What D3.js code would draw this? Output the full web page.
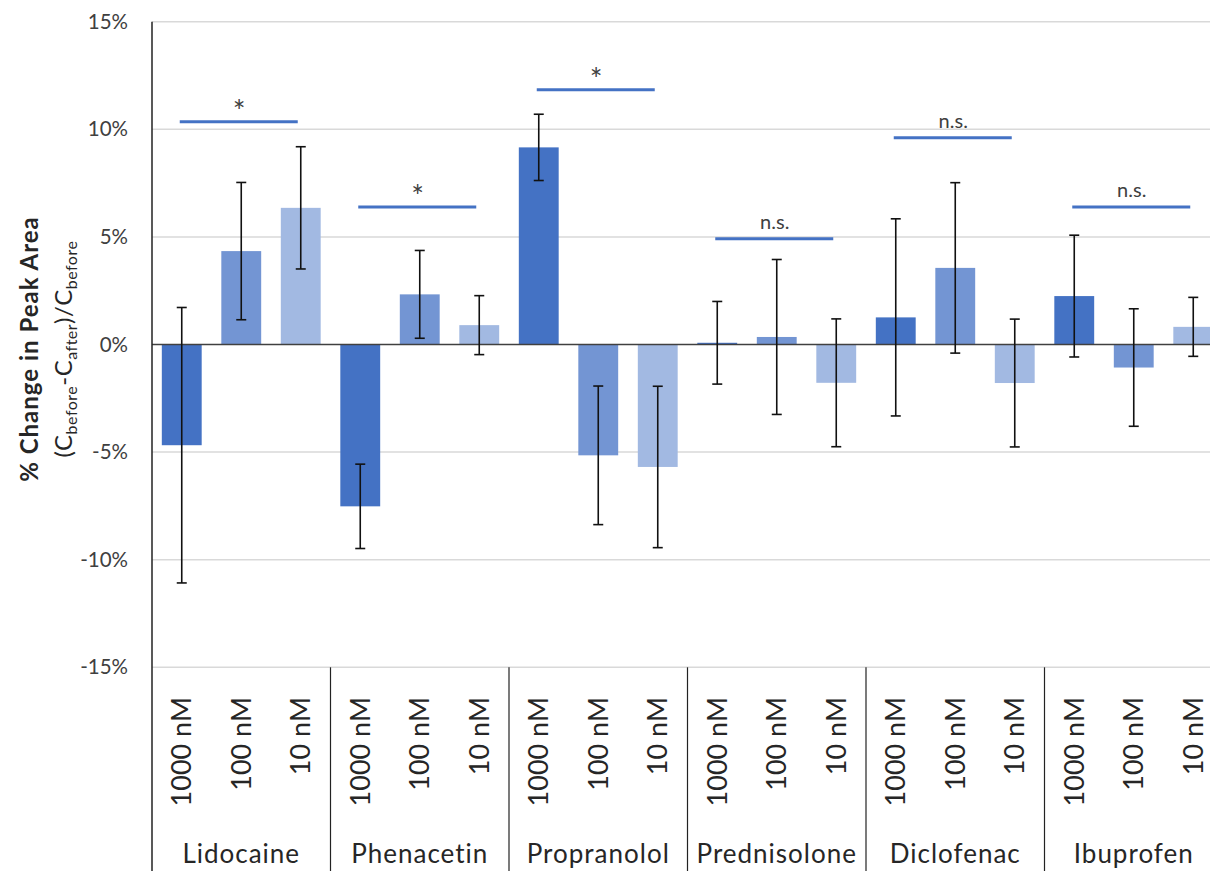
<!DOCTYPE html>
<html>
<head>
<meta charset="utf-8">
<script src="https://cdn.jsdelivr.net/npm/d3@7"></script>
<style>
body { margin: 0; background: #fff; }
svg { display: block; font-family: Lato, "Open Sans", sans-serif; }
</style>
</head>
<body>
<svg></svg>
<script>
// drugs and concentrations
var drugs = ["Lidocaine", "Phenacetin", "Propranolol", "Prednisolone", "Diclofenac", "Ibuprofen"];
var concs = ["1000 nM", "100 nM", "10 nM"];

// % change in peak area, one array per concentration
var change1000 = [-4.68, -7.52, 9.16, 0.08, 1.26, 2.25];
var change100 = [4.34, 2.33, -5.15, 0.35, 3.56, -1.07];
var change10 = [6.35, 0.90, -5.69, -1.78, -1.79, 0.82];

// error bar half widths
var err1000 = [6.40, 1.96, 1.54, 1.92, 4.58, 2.83];
var err100 = [3.19, 2.04, 3.22, 3.60, 3.96, 2.73];
var err10 = [2.84, 1.37, 3.75, 2.97, 2.97, 1.37];

// significance brackets
var sigLevel = [10.35, 6.39, 11.84, 4.91, 9.61, 6.39];
var sigLabel = ["*", "*", "*", "n.s.", "n.s.", "n.s."];

var yTicks = [-15, -10, -5, 0, 5, 10, 15];

var screen = {width: 1210, height: 871};
var plot = {left: 152, top: 21.7, bottom: 667.3, groupW: 178.5};

var svg = d3.select("svg")
    .attr("width", screen.width)
    .attr("height", screen.height);

var rows = [];
drugs.forEach(function(drug, i) {
    [change1000, change100, change10].forEach(function(arr, j) {
        var errs = [err1000, err100, err10][j];
        rows.push({drug: drug, conc: concs[j], value: arr[i], err: errs[i]});
    });
});

var x0 = d3.scaleBand().domain(drugs)
    .range([plot.left, plot.left + plot.groupW * drugs.length]);
var x1 = d3.scaleBand().domain(concs)
    .range([0, x0.bandwidth()]).paddingInner(0.33).paddingOuter(0.165);
var y = d3.scaleLinear().domain([-15, 15]).range([plot.bottom, plot.top]);
var color = d3.scaleOrdinal().domain(concs).range(["#4472C4", "#7395D3", "#A2B9E2"]);

var xc = function(d) { return x0(d.drug) + x1(d.conc) + x1.bandwidth() / 2; };

// gridlines
svg.append("g")
    .selectAll("line")
    .data(yTicks.filter(function(t) { return t != 0; }))
    .enter()
    .append("line")
    .attr("x1", plot.left)
    .attr("x2", x0.range()[1])
    .attr("y1", function(t) { return y(t); })
    .attr("y2", function(t) { return y(t); })
    .attr("stroke", "#d9d9d9")
    .attr("stroke-width", 1.5);

// y axis labels
var yAxis = d3.axisLeft(y)
    .tickValues(yTicks)
    .tickSize(0)
    .tickPadding(24)
    .tickFormat(function(d) { return d + "%"; });

svg.append("g")
    .attr("transform", "translate(" + plot.left + ",0)")
    .call(yAxis)
    .call(function(g) { g.select(".domain").remove(); })
    .selectAll("text")
    .attr("font-size", 20.5)
    .attr("font-family", "Lato")
    .attr("fill", "#404040");

// bars
svg.append("g")
    .selectAll("rect")
    .data(rows)
    .enter()
    .append("rect")
    .attr("x", function(d) { return x0(d.drug) + x1(d.conc); })
    .attr("width", x1.bandwidth())
    .attr("y", function(d) { return y(Math.max(0, d.value)); })
    .attr("height", function(d) { return Math.abs(y(d.value) - y(0)); })
    .attr("fill", function(d) { return color(d.conc); });

// zero line
svg.append("line")
    .attr("x1", plot.left)
    .attr("x2", x0.range()[1])
    .attr("y1", y(0))
    .attr("y2", y(0))
    .attr("stroke", "#404040")
    .attr("stroke-width", 1.5);

// error bars
var errG = svg.append("g")
    .attr("stroke", "#111")
    .attr("stroke-width", 1.6)
    .selectAll("g")
    .data(rows)
    .enter()
    .append("g");

errG.append("line")
    .attr("x1", xc).attr("x2", xc)
    .attr("y1", function(d) { return y(d.value + d.err); })
    .attr("y2", function(d) { return y(d.value - d.err); });

[1, -1].forEach(function(s) {
    errG.append("line")
        .attr("x1", function(d) { return xc(d) - 5; })
        .attr("x2", function(d) { return xc(d) + 5; })
        .attr("y1", function(d) { return y(d.value + s * d.err); })
        .attr("y2", function(d) { return y(d.value + s * d.err); });
});

// significance lines
var sig = svg.append("g")
    .selectAll("g")
    .data(drugs)
    .enter()
    .append("g");

sig.append("line")
    .attr("x1", function(d) { return x0(d) + x1(concs[0]) + x1.bandwidth() / 2 - 2; })
    .attr("x2", function(d) { return x0(d) + x1(concs[2]) + x1.bandwidth() / 2 - 3; })
    .attr("y1", function(d, i) { return y(sigLevel[i]); })
    .attr("y2", function(d, i) { return y(sigLevel[i]); })
    .attr("stroke", "#4472C4")
    .attr("stroke-width", 3);

sig.append("text")
    .attr("x", function(d) { return x0(d) + x0.bandwidth() / 2 - 2; })
    .attr("y", function(d, i) { return y(sigLevel[i]) - (sigLabel[i] == "*" ? 0 : 10); })
    .attr("text-anchor", "middle")
    .attr("font-size", function(d, i) { return sigLabel[i] == "*" ? 30 : 20; })
    .attr("fill", "#404040")
    .text(function(d, i) { return sigLabel[i]; });

// left axis line and category separators
svg.append("line")
    .attr("x1", plot.left).attr("x2", plot.left)
    .attr("y1", plot.top).attr("y2", screen.height)
    .attr("stroke", "#222")
    .attr("stroke-width", 1.5);

svg.append("g")
    .selectAll("line")
    .data(drugs.slice(1).concat(["end"]))
    .enter()
    .append("line")
    .attr("x1", function(d, i) { return plot.left + plot.groupW * (i + 1); })
    .attr("x2", function(d, i) { return plot.left + plot.groupW * (i + 1); })
    .attr("y1", plot.bottom)
    .attr("y2", screen.height)
    .attr("stroke", "#222")
    .attr("stroke-width", 1.2);

// concentration labels
svg.append("g")
    .selectAll("text")
    .data(rows)
    .enter()
    .append("text")
    .attr("transform", function(d) { return "translate(" + xc(d) + ",697) rotate(-90)"; })
    .attr("text-anchor", "end")
    .attr("dy", "0.36em")
    .attr("font-size", 27)
    .attr("fill", "#262626")
    .text(function(d) { return d.conc; });

// drug labels
svg.append("g")
    .selectAll("text")
    .data(drugs)
    .enter()
    .append("text")
    .attr("x", function(d) { return x0(d) + x0.bandwidth() / 2; })
    .attr("y", 863)
    .attr("text-anchor", "middle")
    .attr("font-size", 26)
    .attr("letter-spacing", 1)
    .attr("fill", "#262626")
    .text(function(d) { return d; });

// y axis title
var title = svg.append("g")
    .attr("transform", "translate(0,349) rotate(-90)")
    .attr("text-anchor", "middle")
    .attr("fill", "#262626");

title.append("text")
    .attr("x", 0)
    .attr("y", 38)
    .attr("font-size", 24)
    .attr("font-weight", "bold")
    .attr("letter-spacing", 1)
    .text("% Change in Peak Area");

var t2 = title.append("text")
    .attr("x", 0)
    .attr("y", 72)
    .attr("font-size", 24)
    .attr("letter-spacing", 0.5);
t2.append("tspan").text("(C");
t2.append("tspan").attr("font-size", 16).attr("dy", 5).text("before");
t2.append("tspan").attr("dy", -5).text("-C");
t2.append("tspan").attr("font-size", 16).attr("dy", 5).text("after");
t2.append("tspan").attr("dy", -5).text(")/C");
t2.append("tspan").attr("font-size", 16).attr("dy", 5).text("before");
</script>
</body>
</html>
